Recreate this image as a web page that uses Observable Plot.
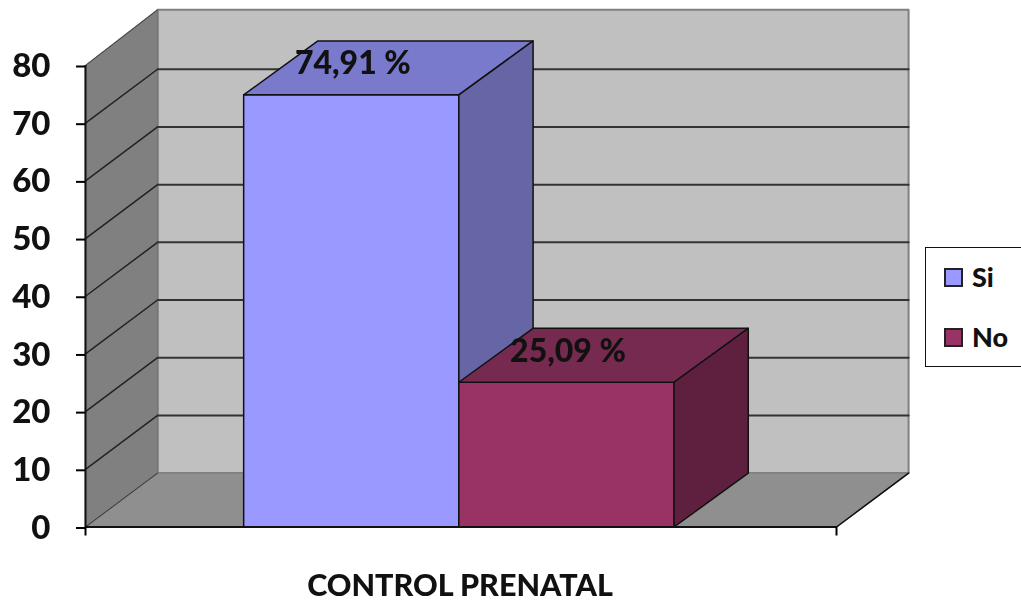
<!DOCTYPE html>
<html>
<head>
<meta charset="utf-8">
<script src="https://cdn.jsdelivr.net/npm/d3@7"></script>
<script src="https://cdn.jsdelivr.net/npm/@observablehq/plot@0.6"></script>
<style>
html,body{margin:0;padding:0;background:#fff;overflow:hidden}
#wrap{position:relative;width:1021px;height:603px;overflow:hidden;font-family:Lato,sans-serif}
#wrap svg{display:block;position:absolute;left:0;top:0;filter:blur(0.4px)}
#legend{position:absolute;left:925px;top:247px;width:110px;height:118px;border:1.5px solid #111;box-sizing:content-box;background:#fff}
.item{position:absolute;left:18px;display:flex;align-items:center;font-weight:900;font-size:27px;line-height:30px;color:#111}
.sw{width:15px;height:15px;border:2px solid #222;margin-right:9px}
</style>
</head>
<body>
<div id="wrap"></div>
<script>
const categories = ["Si", "No"];
const values = [74.91, 25.09];
const valueLabels = ["74,91 %", "25,09 %"];
const yTicks = [0, 10, 20, 30, 40, 50, 60, 70, 80];
const axisTitle = "CONTROL PRENATAL";
const frontColors = ["#9999ff", "#993366"];
const topColors = ["#7a7acc", "#772a50"];
const sideColors = ["#6666a6", "#5f2040"];

// Axis extent and 3D projection, in scale units
const xMax = 3.49, barStart = 0.735, barWidth = 1;
const depthX = 0.335, barDepthX = 0.345, depthY = 9.35;
const yMax = 80, wallTop = yMax + depthY + 0.3;
const edge = "#111";

const face = (pts, fill, stroke = edge, strokeWidth = 1.5) =>
  Plot.line(pts, {x: d => d[0], y: d => d[1], curve: "linear-closed", fill, stroke, strokeWidth});
const seg = (pts, stroke, strokeWidth = 1.5) =>
  Plot.line(pts, {x: d => d[0], y: d => d[1], stroke, strokeWidth});

const walls = [
  face([[depthX, depthY], [xMax + depthX, depthY], [xMax + depthX, wallTop], [depthX, wallTop]], "#c0c0c0", "#808080", 2),
  face([[0, 0], [depthX, depthY], [depthX, wallTop], [0, yMax]], "#808080", "#777", 1.5),
  face([[0, 0], [xMax, 0], [xMax + depthX, depthY], [depthX, depthY]], "#8f8f8f", "#808080", 1.5),
  seg([[0, 0], [depthX, depthY]], "#333", 1),
  seg([[0, yMax], [depthX, wallTop]], "#444", 1),
  seg([[xMax, 0], [xMax + depthX, depthY]], edge, 1.5)
];

const grid = yTicks.filter(t => t > 0 && t < yMax).flatMap(t => [
  seg([[0, t], [depthX, t + depthY]], "#222", 1.5),
  seg([[depthX, t + depthY], [xMax + depthX, t + depthY]], "#333", 2)
]);

const bars = categories.flatMap((c, i) => {
  const x0 = barStart + i * barWidth, x1 = x0 + barWidth, v = values[i];
  return [
    face([[x0, 0], [x1, 0], [x1, v], [x0, v]], frontColors[i]),
    face([[x0, v], [x1, v], [x1 + barDepthX, v + depthY], [x0 + barDepthX, v + depthY]], topColors[i]),
    face([[x1, 0], [x1 + barDepthX, depthY], [x1 + barDepthX, v + depthY], [x1, v]], sideColors[i])
  ];
});

const labelRows = categories.map((c, i) => ({
  x: barStart + i * barWidth + (barWidth + barDepthX) / 2 - 0.165,
  y: values[i] + depthY / 2 + 0.7,
  label: valueLabels[i]
}));

const chart = Plot.plot({
  width: 1021,
  height: 603,
  marginLeft: 85,
  marginRight: 185,
  marginTop: 65,
  marginBottom: 76.5,
  style: {fontFamily: "Lato, sans-serif", background: "transparent"},
  x: {domain: [0, xMax]},
  y: {domain: [0, yMax]},
  marks: [
    ...walls,
    ...grid,
    ...bars,
    Plot.ruleX([0], {y1: 0, y2: yMax, stroke: edge, strokeWidth: 2}),
    Plot.ruleY([0], {x1: 0, x2: xMax, stroke: edge, strokeWidth: 2}),
    Plot.axisY({ticks: yTicks, tickSize: 9, tickPadding: 26, label: null, fontSize: 33, fontWeight: 900, fill: "#111", tickFormat: d => d, strokeWidth: 2, dy: 1}),
    Plot.axisX({ticks: [0, xMax], tickSize: 9, label: null, tickFormat: () => "", strokeWidth: 2}),
    Plot.text(labelRows, {x: "x", y: "y", text: "label", fontSize: 32, fontWeight: 900, fill: "#111"}),
    Plot.text([axisTitle], {x: xMax / 2, frameAnchor: "bottom", dx: -1, dy: 69, fontSize: 30.5, fontWeight: 900, fill: "#111"})
  ]
});

const wrap = document.getElementById("wrap");
wrap.appendChild(chart);

const legend = document.createElement("div");
legend.id = "legend";
categories.forEach((c, i) => {
  const it = document.createElement("div");
  it.className = "item";
  it.style.top = (14 + i * 60) + "px";
  const sw = document.createElement("span");
  sw.className = "sw";
  sw.style.background = frontColors[i];
  const tx = document.createElement("span");
  tx.textContent = c;
  it.append(sw, tx);
  legend.appendChild(it);
});
wrap.appendChild(legend);
</script>
</body>
</html>
